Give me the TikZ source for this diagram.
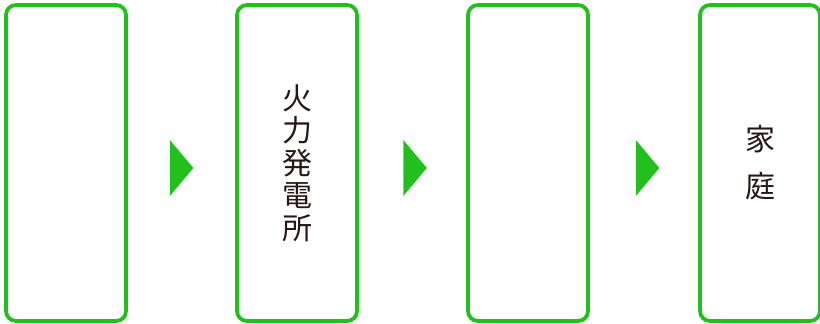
\documentclass[tikz,border=0pt]{standalone}
\usepackage{xcolor}
\usepackage{fontspec}
\usepackage{tikz}
\usetikzlibrary{shapes,shapes.geometric}
\newfontfamily\jpfont{Noto Sans CJK JP}
\definecolor{leaf}{RGB}{34, 192, 28}
\definecolor{ink}{RGB}{35, 24, 21}
\tikzstyle{stage}=[draw=leaf,line width=3.8pt,rounded corners=10pt,minimum width=120pt,minimum height=316pt,inner sep=0pt,align=center,text=ink]
\tikzstyle{flow}=[isosceles triangle,isosceles triangle stretches=true,fill=leaf,inner sep=0pt,minimum width=56pt,minimum height=23.5pt,shape border rotate=0]

\begin{document}
\begin{tikzpicture}[x=1pt,y=-1pt]
\useasboundingbox (0,0) rectangle (820,324);

\node[stage] (fuel) at (66, 163) {};
\node[stage,font=\jpfont\fontsize{30}{32.5}\selectfont] (plant) at (297, 163) {火\\力\\発\\電\\所};
\node[stage] (grid) at (528, 163) {};
\node[stage,font=\jpfont\fontsize{30}{47}\selectfont] (home) at (760, 163) {家\\庭};

%\draw[leaf] (fuel) -- (plant);
\node[flow] (f1) at (180, 168) {};
\node[flow] (f2) at (413.5, 168) {};
\node[flow] (f3) at (646, 168) {};

\end{tikzpicture}
\end{document}
